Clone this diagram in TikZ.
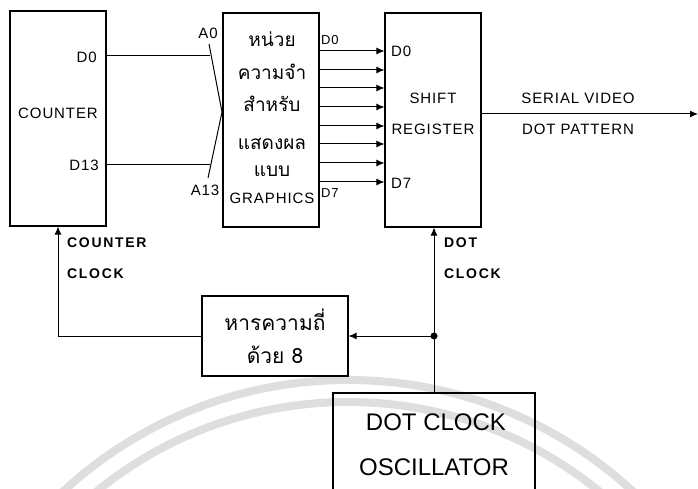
\documentclass[tikz,border=0pt]{standalone}
\usepackage{fontspec}
\setmainfont{Liberation Sans}
\newfontfamily\thaifont[Script=Thai]{Loma}
\newfontfamily\widefont[LetterSpace=6]{Liberation Sans}
\newfontfamily\xwidefont[LetterSpace=12]{Liberation Sans}
\usetikzlibrary{arrows.meta}
\definecolor{wm}{RGB}{222,222,222}
\begin{document}
\begin{tikzpicture}[x=1pt,y=-1pt,
  blk/.style={draw, line width=1.1pt, inner sep=0pt},
  wire/.style={line width=1pt},
  arr/.style={wire,-{Latex[length=8pt,width=7pt]}},
  lbl/.style={inner sep=0pt, font=\widefont\fontsize{15}{17}\selectfont},
  slbl/.style={inner sep=0pt, font=\widefont\fontsize{13}{15}\selectfont},
  clbl/.style={inner sep=0pt, anchor=base west, font=\xwidefont\bfseries\fontsize{14}{16}\selectfont},
  big/.style={inner sep=0pt, anchor=base, font=\fontsize{24}{26}\selectfont},
  thai/.style={inner sep=0pt, anchor=base, font=\thaifont\fontsize{19}{21}\selectfont},
  thaib/.style={inner sep=0pt, anchor=base, font=\thaifont\fontsize{21}{23}\selectfont}]
\useasboundingbox (0,0) rectangle (698,489);
% faint watermark arcs
\draw[wm, line width=8pt] (348,800) circle (420pt);
\draw[wm, line width=8pt] (348,800) circle (398pt);
% boxes
\node[blk, minimum width=202pt, minimum height=105pt] (osc) at (434,445.5) {};
\node[blk, minimum width=96pt, minimum height=215pt] (cnt) at (58,118.5) {};
\node[blk, minimum width=96pt, minimum height=214pt] (mem) at (271,120) {};
\node[blk, minimum width=96pt, minimum height=214pt] (sr) at (433,120) {};
\node[blk, minimum width=146pt, minimum height=80pt] (div) at (275,336) {};
% counter texts
\node[lbl, anchor=base] (tcnt) at (58,118.5) {COUNTER};
\node[lbl, anchor=base east] (cd0) at (97,63) {D0};
\node[lbl, anchor=base east] (cd13) at (99,171) {D13};
% address bus
\coordinate (a0end) at (210,56);
\coordinate (a13end) at (210,165);
\draw[wire] (cnt.east |- a0end) -- (a0end);
\draw[wire] (cnt.east |- a13end) -- (a13end);
\coordinate (bt) at (209,44);
\coordinate (bm) at (222,112);
\coordinate (bb) at (208,178);
\draw[wire] (bt) -- (bm) -- (bb);
\node[lbl, anchor=base] (la0) at (208,39) {A0};
\node[lbl, anchor=base] (la13) at (205,195) {A13};
% memory texts
\node[thai] (m1) at (272,47) {หน่วย};
\node[thai] (m2) at (272,80) {ความจำ};
\node[thai] (m3) at (272,112) {สำหรับ};
\node[thai] (m4) at (272,150) {แสดงผล};
\node[thai] (m5) at (272,177) {แบบ};
\node[lbl, anchor=base] (m6) at (272,204) {GRAPHICS};
\node[slbl, anchor=base west] (md0) at (321,45) {D0};
\node[slbl, anchor=base west] (md7) at (321,197) {D7};
% data lines
\foreach \yy in {51,70,88,107,126,144,163,182}{
  \draw[arr] (mem.east |- 0,\yy) -- (sr.west |- 0,\yy);
}
% shift register texts
\node[lbl, anchor=base west] (sd0) at (391,57) {D0};
\node[lbl, anchor=base west] (sd7) at (391,189) {D7};
\node[lbl, anchor=base] (ts1) at (433,104) {SHIFT};
\node[lbl, anchor=base] (ts2) at (433,135) {REGISTER};
% output
\coordinate (out) at (698,114);
\draw[arr] (sr.east |- out) -- (out);
\node[lbl, anchor=base] (o1) at (578,104) {SERIAL VIDEO};
\node[lbl, anchor=base] (o2) at (578,135) {DOT PATTERN};
% divider
\node[thaib] (d1) at (275,330) {หารความถี่};
\node[thaib] (d2) at (275,363) {ด้วย 8};
% counter clock
\draw[arr] (div.west) -| (cnt.south);
\node[clbl] (cc1) at (67,247) {COUNTER};
\node[clbl] (cc2) at (67,278) {CLOCK};
% dot clock
\draw[arr] (osc.north) -- (osc.north |- sr.south);
\coordinate (j) at (osc.north |- div.east);
\fill (j) circle (3.5pt);
\draw[arr] (j) -- (div.east);
\node[clbl] (dc1) at (444,247) {DOT};
\node[clbl] (dc2) at (444,278) {CLOCK};
% oscillator
\node[big] (os1) at (436,430) {DOT CLOCK};
\node[big] (os2) at (434,475) {OSCILLATOR};
\end{tikzpicture}
\end{document}
